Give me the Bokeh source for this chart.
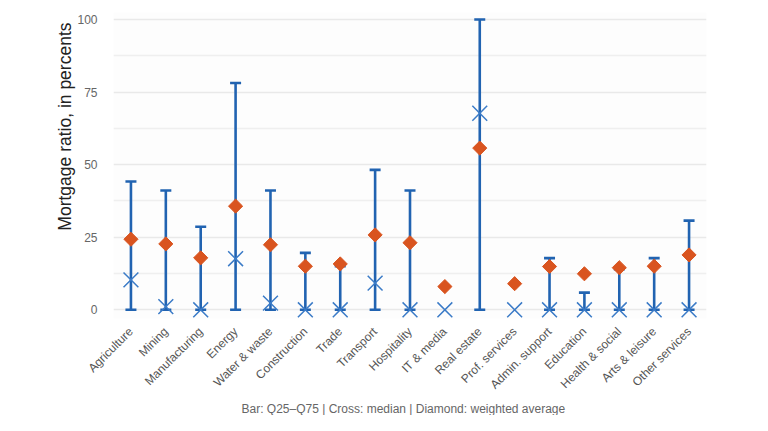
import math
from bokeh.plotting import figure
from bokeh.models import FactorRange, Range1d, FixedTicker, Title, ColumnDataSource
from bokeh.embed import file_html
from bokeh.resources import INLINE

categories = ["Agriculture", "Mining", "Manufacturing", "Energy", "Water & waste",
              "Construction", "Trade", "Transport", "Hospitality", "IT & media",
              "Real estate", "Prof. services", "Admin. support", "Education",
              "Health & social", "Arts & leisure", "Other services"]
q25 = [0, 0, 0, 0, 0, 0, 0, 0, 0, float("nan"), 0, float("nan"), 0, 0, 0, 0, 0]
q75 = [44.2, 41.1, 28.6, 78.1, 41.1, 19.6, 15.0, 48.2, 41.1, float("nan"), 100.0,
       float("nan"), 17.8, 5.9, 14.0, 17.8, 30.7]
median = [10.3, 1.1, 0.0, 17.6, 2.3, 0.0, 0.0, 9.2, 0.0, 0.0, 67.7, 0.0, 0.0,
          0.0, 0.0, 0.0, 0.0]
wavg = [24.3, 22.7, 17.9, 35.7, 22.4, 15.0, 15.8, 25.8, 23.1, 8.0, 55.7, 9.0,
        14.9, 12.4, 14.5, 15.0, 18.9]
y_ticks = [0, 25, 50, 75, 100]
y_minor = [12.5, 37.5, 62.5, 87.5]
y_label = "Mortgage ratio, in percents"
caption = "Bar: Q25\u2013Q75  |  Cross: median  |  Diamond: weighted average"

BLUE = "#2163b1"
XBLUE = "#3b7bc7"
ORANGE = "#d9541f"
FONT = "Liberation Sans"

src = ColumnDataSource(dict(cat=categories, q25=q25, q75=q75, med=median, wavg=wavg))

p = figure(x_range=FactorRange(*categories, range_padding=0.0),
           y_range=Range1d(-3.0, 102.41),
           width=752, height=415, output_backend="svg", toolbar_location=None,
           min_border_left=113, min_border_right=46, min_border_top=12,
           min_border_bottom=97)
p.outline_line_color = None
p.background_fill_color = "#fdfdfd"

p.segment(x0="cat", y0="q25", x1="cat", y1="q75", source=src,
          line_color=BLUE, line_width=2.6)
p.scatter(x="cat", y="q75", source=src, marker="dash", size=11,
          line_color=BLUE, line_width=2.6)
p.scatter(x="cat", y="q25", source=src, marker="dash", size=11,
          line_color=BLUE, line_width=2.6)
p.scatter(x="cat", y="med", source=src, marker="x", size=21,
          line_color=XBLUE, line_width=1.5)
p.scatter(x="cat", y="wavg", source=src, marker="square", angle=math.pi / 4,
          size=10, fill_color=ORANGE, line_color=ORANGE)

p.yaxis.ticker = FixedTicker(ticks=y_ticks, minor_ticks=y_minor)
p.yaxis.major_label_text_font = FONT
p.yaxis.major_label_text_font_size = "12px"
p.yaxis.major_label_text_color = "#666666"
p.yaxis.major_label_standoff = 10
p.yaxis.axis_line_color = None
p.yaxis.major_tick_line_color = None
p.yaxis.minor_tick_line_color = None

p.xaxis.major_label_orientation = math.pi / 4
p.xaxis.major_label_text_font = FONT
p.xaxis.major_label_text_font_size = "12px"
p.xaxis.major_label_text_color = "#555555"
p.xaxis.major_label_standoff = 5
p.xaxis.axis_line_color = None
p.xaxis.major_tick_line_color = None

p.xgrid.grid_line_color = None
p.ygrid.grid_line_color = "#e9e9e9"
p.ygrid.grid_line_width = 1.5
p.ygrid.minor_grid_line_color = "#efefef"
p.ygrid.minor_grid_line_width = 1.5

ytitle = Title(text=y_label, align="right", offset=10, standoff=0,
               text_font=FONT, text_font_size="17.5px", text_font_style="normal",
               text_color="#222222")
p.add_layout(ytitle, "left")

cap = Title(text=caption, align="center", standoff=0,
            text_font=FONT, text_font_size="12px", text_font_style="normal",
            text_color="#666666")
p.add_layout(cap, "below")

open("out.html", "w").write(file_html(p, INLINE))
